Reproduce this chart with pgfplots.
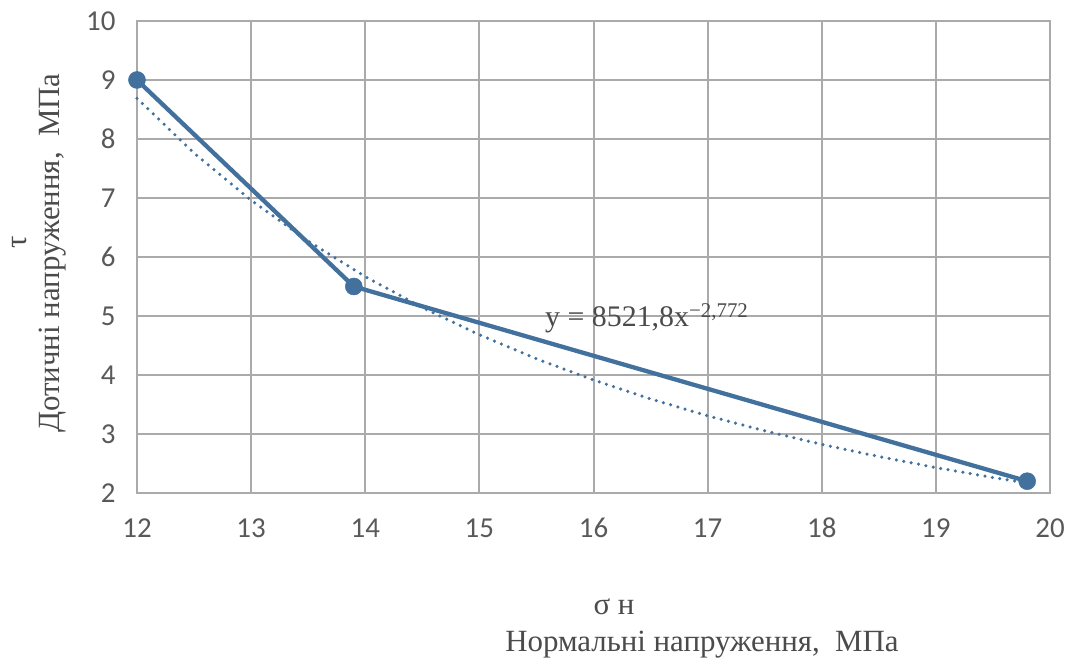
\documentclass[border=0pt]{standalone}
\usepackage{fontspec}
\setmainfont{Liberation Serif}
\newfontfamily\carlito{Carlito}
\usepackage{pgfplots}
\pgfplotsset{compat=1.18}
\definecolor{ser}{RGB}{66,113,157}
\definecolor{gridc}{RGB}{170,170,170}
\definecolor{txt}{RGB}{89,89,89}
\definecolor{labc}{RGB}{75,75,75}
\begin{document}
\begin{tikzpicture}[x=1bp,y=1bp]
\path[use as bounding box] (-137,-171) rectangle (934,493);
\begin{axis}[
  at={(0,0)}, anchor=south west,
  width=913bp, height=472bp, scale only axis,
  xmin=12, xmax=20, ymin=2, ymax=10,
  xtick={12,13,...,20}, ytick={2,3,...,10},
  grid=major, major grid style={gridc, line width=2bp},
  axis line style={gridc, line width=2bp},
  tick style={draw=none},
  tick label style={font=\carlito\fontsize{29}{32}\selectfont, text=txt},
  yticklabel style={xshift=-18bp},
  xticklabel style={yshift=-22bp, text height=19bp, text depth=0bp},
  /pgf/number format/assume math mode=true,
  clip=false,
]
\addplot[ser, line width=4.3bp, mark=*, mark size=8.5bp, mark options={fill=ser, draw=ser, line width=0.5bp}]
  coordinates {(12,9) (13.9,5.5) (19.8,2.2)};
\addplot[ser, line width=3.5bp, line cap=round, dash pattern=on 0bp off 7.5bp]
  coordinates {(12,8.690) (12.5,7.760) (13,6.961) (13.5,6.269) (14,5.668) (14.5,5.143)
  (15,4.682) (15.5,4.275) (16,3.915) (16.5,3.594) (17,3.309) (17.5,3.054) (18,2.824)
  (18.5,2.618) (19,2.431) (19.5,2.262) (19.8,2.169)};
\end{axis}
\node[anchor=base west, font=\fontsize{30}{34}\selectfont, text=labc, inner sep=0pt] at (408,166) {y = 8521,8x\textsuperscript{−2,772}};
\node[font=\fontsize{31}{34}\selectfont, text=labc] at (477,-114) {σ н};
\node[font=\fontsize{31}{34}\selectfont, text=labc] at (565,-152) {Нормальні напруження,\ \ МПа};
\node[font=\fontsize{31}{34}\selectfont, text=labc, rotate=90] at (-117,251) {τ};
\node[font=\fontsize{31}{34}\selectfont, text=labc, rotate=90] at (-84,240) {Дотичні напруження,\ \ МПа};
\end{tikzpicture}
\end{document}
